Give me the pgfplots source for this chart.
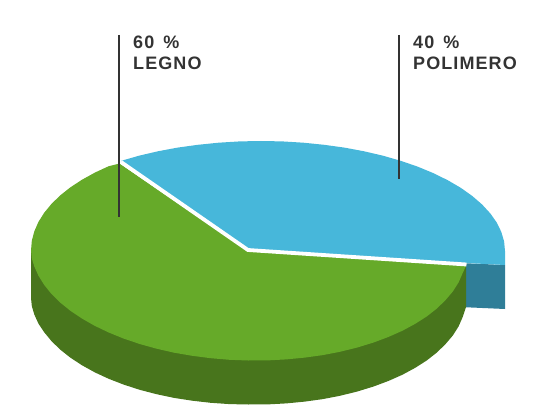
\documentclass[border=0pt]{standalone}
\usepackage{pgfplots}
\pgfplotsset{compat=1.18}
\usepackage{fontspec}
\setmainfont{Liberation Sans}
\newfontfamily\lab[LetterSpace=6,BoldFont={Liberation Sans Bold}]{Liberation Sans}
\definecolor{gr}{HTML}{66AA29}
\definecolor{dgr}{HTML}{48751C}
\definecolor{bl}{HTML}{47B7DA}
\definecolor{dbl}{HTML}{2F7E98}
\definecolor{txt}{HTML}{333333}
\begin{document}
\begin{tikzpicture}
\useasboundingbox (0,0) rectangle (555pt,420pt);
\begin{axis}[
  at={(0,0)},anchor=south west,
  width=555pt,height=420pt,scale only axis,
  xmin=0,xmax=555,ymin=0,ymax=420,y dir=reverse,
  hide axis,clip=false]
% blue side
\addplot[fill=dbl,draw=none] coordinates {(460,263)(505,265)(505,309)(460,307)} -- cycle;
% green side
\addplot[fill=dgr,draw=none] coordinates {(466,262)(466,307)(462.7,317)(458.6,326.4)(452.9,335.4)(445.6,344)(436.9,352.5)(426.7,360.5)(415.1,367.9)(402.3,374.8)(388.3,381)(373.3,386.6)(357.3,391.5)(340.4,395.7)(322.9,399.1)(304.8,401.6)(286.3,403.4)(267.5,404.4)(248.5,404.5)(229.5,404.1)(210.7,402.8)(192.2,400.7)(174.1,397.9)(156.6,394.2)(139.7,389.8)(123.7,384.6)(108.7,378.8)(94.7,372.3)(81.9,365.2)(70.3,357.6)(60.1,349.5)(51.4,341)(44.1,332.1)(38.4,323.5)(34.3,314.5)(31.8,306)(31,298)(31,250)(248,250)} -- cycle;
% blue top
\addplot[fill=bl,draw=none] coordinates {(121,160.9)(139,155.7)(157.9,151.3)(177.6,147.6)(197.9,144.8)(218.6,142.7)(239.7,141.4)(261,141)(282.3,141.4)(303.4,142.7)(324.1,144.8)(344.4,147.6)(364.1,151.3)(383,155.7)(401,160.9)(417.8,166.7)(433.5,173.2)(447.9,180.3)(460.9,187.9)(472.3,196)(482.1,204.5)(490.3,213.4)(496.7,222.5)(501.3,231.9)(504.1,241.4)(505,251)(505.2,258)(505,265)(466,263)(248,250)} -- cycle;
% green top
\addplot[fill=gr,draw=none] coordinates {(466,266)(462.7,273)(458.6,282.4)(452.9,291.4)(445.6,300)(436.9,308.5)(426.7,316.5)(415.1,323.9)(402.3,330.8)(388.3,337)(373.3,342.6)(357.3,347.5)(340.4,351.7)(322.9,355.1)(304.8,357.6)(286.3,359.4)(267.5,360.4)(248.5,360.5)(229.5,359.8)(210.7,358.2)(192.2,355.8)(174.1,352.7)(156.6,348.7)(139.7,344)(123.7,338.6)(108.7,332.5)(94.7,325.8)(81.9,318.5)(70.3,310.7)(60.1,302.5)(51.4,293.9)(44.1,284.8)(38.4,275.6)(34.3,266.5)(31.8,258.5)(31,250.5)(31.8,240.9)(34.3,231.4)(38.4,222)(44.1,212.9)(51.4,204)(60.1,195.5)(70.3,187.4)(81.9,179.8)(94.7,172.7)(108.7,166.2)(119.5,163.5)(248,251)} -- cycle;
% white separator
\addplot[white,line width=3.8pt,line join=miter] coordinates {(121,162)(248,250)(466.5,264.5)};
% leaders
\addplot[txt,line width=1.25pt] coordinates {(119,35)(119,217)};
\addplot[txt,line width=1.25pt] coordinates {(399,35)(399,179)};
\node[anchor=base west,inner sep=0,text=txt,font=\lab\bfseries\fontsize{18}{20}\selectfont] at (axis cs:133,48.5) {60\hspace{3pt} \%};
\node[anchor=base west,inner sep=0,text=txt,font=\lab\bfseries\fontsize{18}{20}\selectfont] at (axis cs:133,69.5) {LEGNO};
\node[anchor=base west,inner sep=0,text=txt,font=\lab\bfseries\fontsize{18}{20}\selectfont] at (axis cs:413,48.5) {40\hspace{3pt} \%};
\node[anchor=base west,inner sep=0,text=txt,font=\lab\bfseries\fontsize{18}{20}\selectfont] at (axis cs:413,69.5) {POLIMERO};
\end{axis}
\end{tikzpicture}
\end{document}
